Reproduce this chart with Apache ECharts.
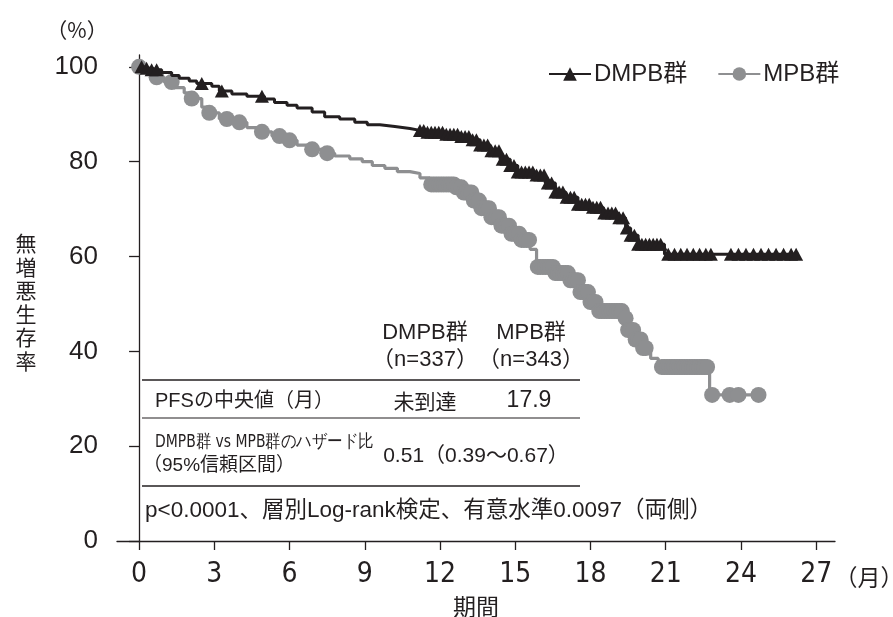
<!DOCTYPE html>
<html><head><meta charset="utf-8">
<script src="https://cdn.jsdelivr.net/npm/echarts@6/dist/echarts.min.js"></script>
<style>html,body{margin:0;padding:0;background:#fff}#c{width:893px;height:617px}</style>
</head><body><div id="c"></div>
<script>
// ---- data ----
const xTicks = [0, 3, 6, 9, 12, 15, 18, 21, 24, 27];
const yTicks = [0, 20, 40, 60, 80, 100];
const seriesNames = ['DMPB群', 'MPB群'];

// DMPB group: Kaplan-Meier step points (time in months, survival %)
const dmpbEventT = [0, 0.2, 0.5, 0.9, 1.3, 1.6, 2.0, 2.3, 2.9, 3.2, 3.7, 4.3, 5.0, 5.4, 5.9, 6.3, 6.9, 7.4, 8.0, 8.6, 9.1, 9.6, 10.2, 10.8, 11.4, 12.2, 12.8, 13.2, 13.6, 14.0, 14.4, 14.8, 15.1, 15.8, 16.2, 16.6, 17.0, 17.5, 18.0, 18.5, 19.1, 19.4, 19.6, 19.9, 20.95];
const dmpbEventS = [100, 99.7, 99.4, 98.8, 98.2, 97.6, 97.0, 96.5, 95.9, 94.9, 94.3, 93.8, 93.2, 92.5, 91.9, 91.3, 90.5, 89.5, 89.0, 88.3, 87.8, 87.4, 87.0, 86.6, 86.2, 85.8, 85.3, 84.6, 83.5, 82.3, 80.5, 79.2, 77.8, 77.2, 75.5, 73.6, 72.5, 71.0, 70.4, 69.2, 68.2, 66.0, 64.5, 62.6, 60.5];
const dmpbCensorT = [0.1, 0.3, 0.5, 0.7, 2.5, 3.3, 4.9,
  11.2, 11.35, 11.5, 11.65, 11.8, 11.95, 12.1, 12.25, 12.4, 12.55, 12.7, 12.85, 13.0, 13.15, 13.3, 13.45, 13.6, 13.75, 13.9,
  14.05, 14.2, 14.35, 14.5, 14.65, 14.8, 14.95, 15.1, 15.25, 15.4, 15.55, 15.7, 15.85, 16.0, 16.15, 16.3, 16.45, 16.6, 16.75, 16.9,
  17.05, 17.2, 17.35, 17.5, 17.65, 17.8, 17.95, 18.1, 18.25, 18.4, 18.55, 18.7, 18.85, 19.0, 19.15, 19.3, 19.45, 19.6, 19.75, 19.9,
  20.05, 20.2, 20.35, 20.5, 20.65, 20.8,
  21.1, 21.35, 21.6, 21.85, 22.1, 22.35, 22.6, 22.8, 23.6, 23.9, 24.2, 24.5, 24.8, 25.1, 25.4, 25.7, 26.0, 26.2];
const dmpbEndT = 26.3;

// MPB group
const mpbEventT = [0, 0.3, 0.6, 1.0, 1.4, 1.8, 2.1, 2.5, 2.8, 3.2, 3.8, 4.3, 4.8, 5.3, 5.8, 6.3, 6.8, 7.3, 7.8, 8.4, 8.9, 9.3, 9.8, 10.3, 10.8, 11.2, 11.6, 12.6, 12.9, 13.3, 13.6, 14.0, 14.4, 14.8, 15.2, 15.6, 15.85, 16.6, 17.2, 17.6, 18.0, 18.3, 19.3, 19.5, 19.8, 20.1, 20.4, 20.7, 22.75];
const mpbEventS = [100, 98.8, 97.8, 96.8, 95.6, 94.5, 93.3, 91.5, 90.3, 89.0, 88.3, 87.2, 86.3, 85.4, 84.5, 83.5, 82.6, 81.8, 81.2, 80.6, 80.0, 79.2, 78.6, 77.9, 77.5, 76.6, 75.2, 74.6, 73.5, 71.8, 70.2, 68.3, 66.5, 64.8, 63.5, 61.5, 57.8, 56.5, 55.0, 52.5, 50.4, 48.5, 47.0, 44.5, 42.5, 40.7, 38.5, 36.7, 30.8];
const mpbCensorT = [0, 0.7, 1.3, 2.1, 2.8, 3.5, 4.0, 4.9, 5.6, 6.0, 6.9, 7.5,
  11.65, 11.75, 11.85, 11.95, 12.05, 12.15, 12.25, 12.35, 12.45, 12.55, 12.65, 12.75, 12.85, 12.95, 13.05, 13.15, 13.25, 13.35, 13.45, 13.55,
  13.65, 13.75, 13.85, 13.95, 14.05, 14.15, 14.25, 14.35, 14.45, 14.55, 14.65, 14.75, 14.85, 14.95, 15.05, 15.15, 15.25, 15.35, 15.45, 15.55,
  15.9, 16.0, 16.1, 16.2, 16.3, 16.4, 16.5, 16.6, 16.7, 16.8, 16.9, 17.0, 17.1, 17.2, 17.3, 17.4, 17.5, 17.6, 17.7, 17.8, 17.9,
  18.0, 18.1, 18.2, 18.35, 18.45, 18.55, 18.65, 18.75, 18.85, 18.95, 19.05, 19.15, 19.25, 19.4, 19.5, 19.6, 19.7, 19.8, 19.9, 20.0, 20.1, 20.2,
  20.85, 20.95, 21.05, 21.15, 21.25, 21.35, 21.45, 21.55, 21.65, 21.75, 21.85, 21.95, 22.05, 22.15, 22.25, 22.35, 22.45, 22.55, 22.65,
  22.85, 23.55, 23.9, 24.7];
const mpbEndT = 24.7;

// ---- build KM line data (censor marks sit on the curve) ----
function buildKM(evT, evS, cT, endT) {
  const sAt = t => { let s = evS[0]; for (let i = 0; i < evT.length; i++) if (evT[i] <= t + 1e-9) s = evS[i]; return s; };
  const pts = [];
  evT.forEach((t, i) => pts.push({ t, s: evS[i], c: 0 }));
  cT.forEach(t => pts.push({ t, s: sAt(t), c: 1 }));
  pts.push({ t: endT, s: sAt(endT), c: 0 });
  pts.sort((a, b) => a.t - b.t || a.c - b.c);
  return pts.map(p => p.c ? { value: [p.t, p.s] } : { value: [p.t, p.s], symbol: 'none' });
}

const BLACK = '#231f20', GRAY = '#8e8f91';
const JP = "'Noto Sans CJK JP', sans-serif";
const LAT = "'Liberation Sans', 'Noto Sans CJK JP', sans-serif";
const NARROW = "'Liberation Sans Narrow', 'DejaVu Sans Condensed', 'Liberation Sans', sans-serif";

const chart = echarts.init(document.getElementById('c'), null, { renderer: 'canvas' });
chart.setOption({
  animation: false,
  backgroundColor: '#fff',
  grid: { left: 117, right: 58, top: 55, bottom: 76 },
  xAxis: {
    type: 'value', min: -0.88, max: 27.75,
    splitLine: { show: false },
    axisLine: { lineStyle: { color: BLACK, width: 1.3 } },
    axisTick: { length: 9, lineStyle: { color: BLACK, width: 1.3 }, customValues: xTicks },
    axisLabel: { customValues: xTicks, color: BLACK, fontSize: 28, fontFamily: NARROW, margin: 20 }
  },
  yAxis: {
    type: 'value', min: 0, max: 102.5,
    splitLine: { show: false },
    axisLine: { show: true, lineStyle: { color: BLACK, width: 1.3 } },
    axisTick: { show: true, length: 10, lineStyle: { color: BLACK, width: 1.3 }, customValues: yTicks },
    axisLabel: { customValues: yTicks, color: BLACK, fontSize: 26, fontFamily: LAT, margin: 19 }
  },
  legend: {
    data: seriesNames, left: 543, top: 57, itemWidth: 42, itemHeight: 17, itemGap: 30,
    textStyle: { fontSize: 24, color: BLACK, fontFamily: LAT, padding: [0, 0, 0, -2] }
  },
  series: [
    {
      name: seriesNames[0], type: 'line', step: 'end', data: buildKM(dmpbEventT, dmpbEventS, dmpbCensorT, dmpbEndT),
      symbol: 'triangle', symbolSize: [14, 13], showSymbol: true,
      lineStyle: { color: BLACK, width: 3 }, itemStyle: { color: BLACK }, z: 3
    },
    {
      name: seriesNames[1], type: 'line', step: 'end', data: buildKM(mpbEventT, mpbEventS, mpbCensorT, mpbEndT),
      symbol: 'circle', symbolSize: 16, showSymbol: true,
      lineStyle: { color: GRAY, width: 3.2 }, itemStyle: { color: GRAY }, z: 2
    }
  ],
  graphic: [
    { type: 'text', style: { text: '（%）', x: 77, y: 30, textAlign: 'center', textVerticalAlign: 'middle', font: "21px " + JP, fill: BLACK } },
    { type: 'text', style: { text: '無\n増\n悪\n生\n存\n率', x: 26, y: 302, textAlign: 'center', textVerticalAlign: 'middle', font: "21px " + JP, lineHeight: 23.5, fill: BLACK } },
    { type: 'text', style: { text: '（月）', x: 869, y: 577, textAlign: 'center', textVerticalAlign: 'middle', font: "23px " + JP, fill: BLACK } },
    { type: 'text', style: { text: '期間', x: 476, y: 606, textAlign: 'center', textVerticalAlign: 'middle', font: "23px " + JP, fill: BLACK } },
    // table
    { type: 'text', style: { text: 'DMPB群', x: 425, y: 333, textAlign: 'center', textVerticalAlign: 'middle', font: "22px " + LAT, fill: BLACK } },
    { type: 'text', style: { text: 'MPB群', x: 531, y: 333, textAlign: 'center', textVerticalAlign: 'middle', font: "22px " + LAT, fill: BLACK } },
    { type: 'text', style: { text: '（n=337）', x: 425, y: 360, textAlign: 'center', textVerticalAlign: 'middle', font: "22px " + LAT, fill: BLACK } },
    { type: 'text', style: { text: '（n=343）', x: 531, y: 360, textAlign: 'center', textVerticalAlign: 'middle', font: "22px " + LAT, fill: BLACK } },
    { type: 'line', shape: { x1: 142, y1: 380, x2: 580, y2: 380 }, style: { stroke: BLACK, lineWidth: 1.6 } },
    { type: 'text', style: { text: 'PFSの中央値（月）', x: 155, y: 401, textAlign: 'left', textVerticalAlign: 'middle', font: "20px " + LAT, fill: BLACK } },
    { type: 'text', style: { text: '未到達', x: 425, y: 401, textAlign: 'center', textVerticalAlign: 'middle', font: "21px " + JP, fill: BLACK } },
    { type: 'text', style: { text: '17.9', x: 529, y: 401, textAlign: 'center', textVerticalAlign: 'middle', font: "23px " + LAT, fill: BLACK } },
    { type: 'line', shape: { x1: 142, y1: 418, x2: 580, y2: 418 }, style: { stroke: BLACK, lineWidth: 1.2 } },
    { type: 'text', x: 155, y: 442, scaleX: 0.86, style: { text: 'DMPB群 vs MPB群のハザード比', x: 0, y: 0, textAlign: 'left', textVerticalAlign: 'middle', font: "18px " + NARROW, fill: BLACK } },
    { type: 'text', style: { text: '（95%信頼区間）', x: 143, y: 466, textAlign: 'left', textVerticalAlign: 'middle', font: "19px " + LAT, fill: BLACK } },
    { type: 'text', style: { text: '0.51（0.39〜0.67）', x: 476, y: 456, textAlign: 'center', textVerticalAlign: 'middle', font: "21px " + LAT, fill: BLACK } },
    { type: 'line', shape: { x1: 142, y1: 486, x2: 580, y2: 486 }, style: { stroke: BLACK, lineWidth: 1.6 } },
    { type: 'text', style: { text: 'p<0.0001、層別Log-rank検定、有意水準0.0097（両側）', x: 145, y: 511, textAlign: 'left', textVerticalAlign: 'middle', font: "22.5px " + LAT, fill: BLACK } }
  ]
});
</script>
</body></html>
